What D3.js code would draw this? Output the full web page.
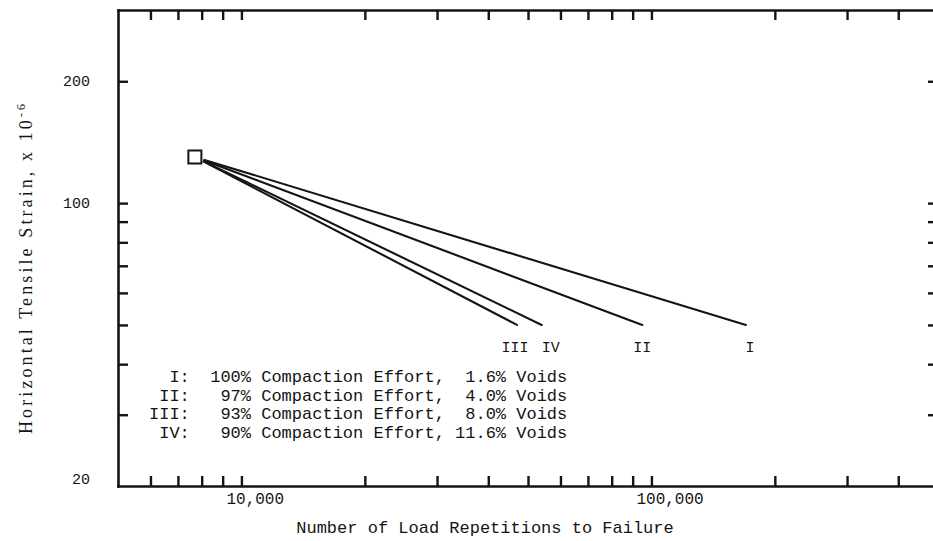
<!DOCTYPE html>
<html>
<head>
<meta charset="utf-8">
<script src="https://cdn.jsdelivr.net/npm/d3@7"></script>
<style>
  html, body { margin: 0; padding: 0; background: #fff; }
  svg { display: block; }
  text { white-space: pre; }
</style>
</head>
<body>
<script>
// ---- data ----
const series        = ["I", "II", "III", "IV"];
const failureReps   = [170000, 95000, 47000, 54000];   // end point, load repetitions
const endStrain     = [50, 50, 50, 50];               // end point, strain x 10^-6
const originReps    = 7700;                            // common starting point (square)
const originStrain  = 130;
const compaction    = [100, 97, 93, 90];              // % compaction effort
const voids         = [1.6, 4.0, 8.0, 11.6];          // % voids

const xTickValues   = [6000, 7000, 8000, 9000, 10000, 20000, 30000, 40000, 50000,
                       60000, 70000, 80000, 90000, 100000, 200000, 300000, 400000];
const xTickLabels   = [10000, 100000];
const yTickValues   = [30, 40, 50, 60, 70, 80, 90, 100, 200];
const yTickLabels   = [20, 100, 200];
const xDomain       = [5000, 500000];
const yDomain       = [20, 300];

const xTitle = "Number of Load Repetitions to Failure";
const yTitle = "Horizontal Tensile Strain, x 10";
const yTitleSup = "-6";

// ---- layout ----
const W = 933, H = 541;
const mLeft = 118, mRight = 938, mTop = 10, mBottom = 486;
const ink = "#141414";
const mono = "'Liberation Mono', 'DejaVu Sans Mono', monospace";
const serif = "'Liberation Serif', 'DejaVu Serif', serif";

const svg = d3.select("body").append("svg").attr("width", W).attr("height", H);

const x = d3.scaleLog().domain(xDomain).range([mLeft, mRight]);
const y = d3.scaleLog().domain(yDomain).range([mBottom, mTop]);

function styleAxis(g) {
  g.select(".domain").attr("stroke", ink).attr("stroke-width", 2.6).attr("stroke-linecap", "square");
  g.selectAll(".tick line").attr("stroke", ink).attr("stroke-width", 2.4);
  g.selectAll(".tick text").remove();
}

svg.append("g").attr("transform", `translate(0,${mBottom})`)
  .call(d3.axisBottom(x).tickValues(xTickValues).tickSizeInner(-10).tickSizeOuter(0).tickFormat(""))
  .call(styleAxis);
svg.append("g").attr("transform", `translate(0,${mTop})`)
  .call(d3.axisTop(x).tickValues(xTickValues).tickSizeInner(-10).tickSizeOuter(0).tickFormat(""))
  .call(styleAxis);
svg.append("g").attr("transform", `translate(${mLeft},0)`)
  .call(d3.axisLeft(y).tickValues(yTickValues).tickSizeInner(-10).tickSizeOuter(0).tickFormat(""))
  .call(styleAxis);
svg.append("g").attr("transform", `translate(${mRight},0)`)
  .call(d3.axisRight(y).tickValues(yTickValues).tickSizeInner(-10).tickSizeOuter(0).tickFormat(""))
  .call(styleAxis);

// ---- tick labels ----
const fmt = d3.format(",");
svg.append("g").selectAll("text").data(xTickLabels).join("text")
  .attr("x", d => x(d) - 15)
  .attr("y", mBottom + 18)
  .attr("font-family", mono).attr("font-size", 16).attr("fill", ink)
  .text(d => fmt(d));

svg.append("g").selectAll("text").data(yTickLabels).join("text")
  .attr("x", mLeft - 28)
  .attr("y", d => Math.min(y(d), mBottom - 7) + 5)
  .attr("text-anchor", "end")
  .attr("font-family", mono).attr("font-size", 15).attr("fill", ink)
  .text(d => d);

// ---- axis titles ----
svg.append("text")
  .attr("x", 485)
  .attr("y", 533)
  .attr("text-anchor", "middle")
  .attr("font-family", mono).attr("font-size", 17).attr("fill", ink)
  .text(xTitle);

const yt = svg.append("text")
  .attr("transform", `translate(32,434) rotate(-90)`)
  .attr("font-family", serif).attr("font-size", 18).attr("fill", ink)
  .attr("letter-spacing", 3.1);
yt.append("tspan").text(yTitle);
yt.append("tspan").attr("dy", -7).attr("font-size", 12).text(yTitleSup);

// ---- lines ----
const ox = x(originReps), oy = y(originStrain);
const gap = 10;
const lines = series.map((s, i) => {
  const ex = x(failureReps[i]), ey = y(endStrain[i]);
  const len = Math.hypot(ex - ox, ey - oy);
  return { s, ex, ey, sx: ox + (ex - ox) / len * gap, sy: oy + (ey - oy) / len * gap };
});

svg.append("g").selectAll("line").data(lines).join("line")
  .attr("x1", d => d.sx).attr("y1", d => d.sy)
  .attr("x2", d => d.ex).attr("y2", d => d.ey)
  .attr("stroke", ink).attr("stroke-width", 2.1).attr("stroke-linecap", "round");

svg.append("rect")
  .attr("x", ox - 6.5).attr("y", oy - 6.5)
  .attr("width", 13).attr("height", 13)
  .attr("fill", "#fff").attr("stroke", ink).attr("stroke-width", 2);

// ---- series labels at line ends ----
const labelDx = { "I": 4, "II": 0, "III": -2, "IV": 9 };
svg.append("g").selectAll("text").data(lines).join("text")
  .attr("x", d => d.ex + labelDx[d.s])
  .attr("y", d => d.ey + 27)
  .attr("text-anchor", "middle")
  .attr("font-family", mono).attr("font-size", 15).attr("fill", ink)
  .text(d => d.s);

// ---- legend ----
const legendLines = series.map((s, i) =>
  (s + ":").padStart(4) + "  " + (compaction[i] + "%").padStart(4) +
  " Compaction Effort, " + (voids[i].toFixed(1) + "%").padStart(5) + " Voids");

svg.append("g").selectAll("text").data(legendLines).join("text")
  .attr("x", 149)
  .attr("y", (d, i) => 382 + i * 18.5)
  .attr("font-family", mono).attr("font-size", 17).attr("fill", ink)
  .text(d => d);
</script>
</body>
</html>
